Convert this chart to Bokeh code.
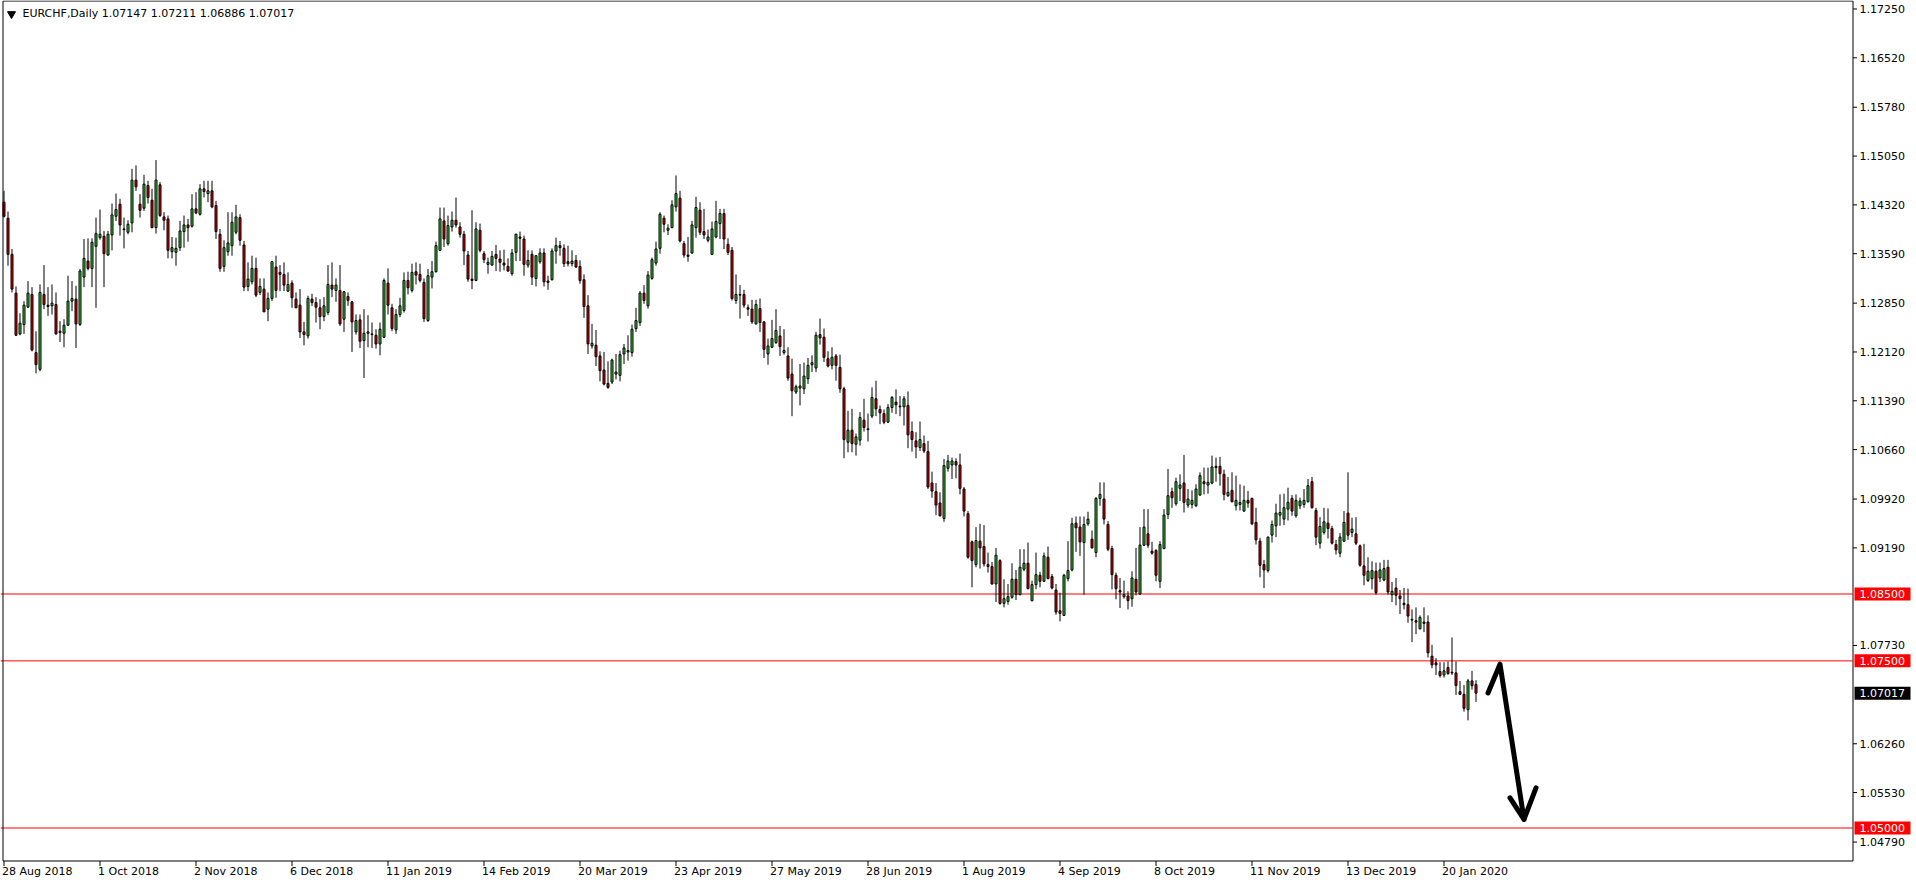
from bokeh.plotting import figure
from bokeh.models import Range1d, ColumnDataSource
from bokeh.core.properties import value
from bokeh.embed import file_html
from bokeh.resources import INLINE

# ---------------- data ----------------
symbol_title = "EURCHF,Daily  1.07147 1.07211 1.06886 1.07017"

opens = [
    1.1436, 1.1412, 1.1358, 1.1300, 1.1239, 1.1253, 1.1279, 1.1298, 1.1211, 1.1186,
    1.1298, 1.1282, 1.1281, 1.1283, 1.1243, 1.1240, 1.1252, 1.1288, 1.1291, 1.1253,
    1.1324, 1.1348, 1.1337, 1.1370, 1.1383, 1.1385, 1.1357, 1.1387, 1.1415, 1.1433,
    1.1396, 1.1391, 1.1405, 1.1469, 1.1433, 1.1427, 1.1461, 1.1439, 1.1398, 1.1462,
    1.1414, 1.1411, 1.1362, 1.1361, 1.1368, 1.1392, 1.1402, 1.1400, 1.1426, 1.1418,
    1.1456, 1.1449, 1.1453, 1.1431, 1.1388, 1.1340, 1.1362, 1.1371, 1.1391, 1.1413,
    1.1372, 1.1310, 1.1317, 1.1337, 1.1301, 1.1306, 1.1276, 1.1292, 1.1339, 1.1331,
    1.1328, 1.1303, 1.1315, 1.1291, 1.1282, 1.1242, 1.1236, 1.1291, 1.1286, 1.1278,
    1.1265, 1.1271, 1.1312, 1.1304, 1.1304, 1.1261, 1.1295, 1.1287, 1.1242, 1.1260,
    1.1229, 1.1240, 1.1239, 1.1237, 1.1224, 1.1234, 1.1315, 1.1278, 1.1245, 1.1268,
    1.1274, 1.1319, 1.1304, 1.1332, 1.1328, 1.1316, 1.1259, 1.1324, 1.1332, 1.1364,
    1.1408, 1.1374, 1.1399, 1.1409, 1.1399, 1.1388, 1.1357, 1.1321, 1.1319, 1.1394,
    1.1359, 1.1343, 1.1342, 1.1358, 1.1351, 1.1345, 1.1340, 1.1329, 1.1361, 1.1384,
    1.1381, 1.1342, 1.1358, 1.1322, 1.1347, 1.1360, 1.1318, 1.1320, 1.1363, 1.1371,
    1.1367, 1.1347, 1.1344, 1.1349, 1.1340, 1.1320, 1.1281, 1.1221, 1.1222, 1.1206,
    1.1185, 1.1165, 1.1167, 1.1179, 1.1177, 1.1209, 1.1212, 1.1211, 1.1247, 1.1256,
    1.1300, 1.1281, 1.1322, 1.1345, 1.1367, 1.1412, 1.1394, 1.1398, 1.1429, 1.1442,
    1.1374, 1.1357, 1.1360, 1.1398, 1.1424, 1.1392, 1.1379, 1.1358, 1.1384, 1.1404,
    1.1419, 1.1373, 1.1364, 1.1289, 1.1298, 1.1298, 1.1278, 1.1276, 1.1254, 1.1277,
    1.1257, 1.1209, 1.1219, 1.1226, 1.1236, 1.1211, 1.1206, 1.1179, 1.1152, 1.1158,
    1.1157, 1.1172, 1.1193, 1.1188, 1.1238, 1.1234, 1.1202, 1.1192, 1.1206, 1.1189,
    1.1157, 1.1077, 1.1095, 1.1074, 1.1080, 1.1110, 1.1097, 1.1116, 1.1142, 1.1126,
    1.1120, 1.1107, 1.1129, 1.1137, 1.1131, 1.1130, 1.1132, 1.1093, 1.1079, 1.1069,
    1.1075, 1.1063, 1.1016, 1.1003, 1.0986, 1.0963, 1.1038, 1.1043, 1.1048, 1.1043,
    1.1007, 1.0970, 1.0928, 1.0894, 1.0929, 1.0921, 1.0894, 1.0891, 1.0865, 1.0900,
    1.0836, 1.0839, 1.0845, 1.0872, 1.0849, 1.0887, 1.0896, 1.0840, 1.0864, 1.0878,
    1.0869, 1.0905, 1.0876, 1.0856, 1.0825, 1.0818, 1.0873, 1.0886, 1.0956, 1.0950,
    1.0927, 1.0955, 1.0932, 1.0912, 1.0993, 1.0992, 1.0954, 1.0918, 1.0878, 1.0855,
    1.0846, 1.0847, 1.0843, 1.0872, 1.0850, 1.0923, 1.0940, 1.0914, 1.0915, 1.0869,
    1.0918, 1.0969, 1.1003, 1.0985, 1.1008, 1.1016, 1.0983, 1.0984, 1.0982, 1.0998,
    1.1018, 1.1013, 1.1016, 1.1041, 1.1041, 1.1029, 1.0997, 1.1005, 1.0982, 1.0984,
    1.0974, 1.0990, 1.0993, 1.0957, 1.0929, 1.0894, 1.0885, 1.0938, 1.0952, 1.0968,
    1.0962, 1.0977, 1.0993, 1.0967, 1.0982, 1.0984, 1.0988, 1.1018, 1.0975, 1.0926,
    1.0942, 1.0956, 1.0948, 1.0924, 1.0911, 1.0929, 1.0971, 1.0942, 1.0940, 1.0922,
    1.0892, 1.0870, 1.0873, 1.0884, 1.0874, 1.0871, 1.0890, 1.0849, 1.0859, 1.0847,
    1.0836, 1.0834, 1.0812, 1.0810, 1.0798, 1.0808, 1.0808, 1.0757, 1.0747, 1.0734,
    1.0729, 1.0740, 1.0733, 1.0732, 1.0704, 1.0700, 1.0677, 1.0720, 1.07147,
]

highs = [
    1.1453, 1.1422, 1.1366, 1.1310, 1.1270, 1.1288, 1.1318, 1.1309, 1.1243, 1.1313,
    1.1342, 1.1309, 1.1313, 1.1301, 1.1258, 1.1261, 1.1326, 1.1318, 1.1311, 1.1336,
    1.1381, 1.1382, 1.1382, 1.1413, 1.1425, 1.1393, 1.1393, 1.1434, 1.1449, 1.1441,
    1.1413, 1.1409, 1.1486, 1.1491, 1.1448, 1.1477, 1.1468, 1.1456, 1.1499, 1.1466,
    1.1421, 1.1416, 1.1384, 1.1383, 1.1408, 1.1416, 1.1411, 1.1448, 1.1451, 1.1463,
    1.1468, 1.1468, 1.1468, 1.1438, 1.1396, 1.1379, 1.1421, 1.1421, 1.1432, 1.1418,
    1.1378, 1.1346, 1.1356, 1.1353, 1.1322, 1.1322, 1.1301, 1.1348, 1.1356, 1.1342,
    1.1346, 1.1331, 1.1319, 1.1301, 1.1306, 1.1257, 1.1296, 1.1299, 1.1294, 1.1291,
    1.1294, 1.1342, 1.1346, 1.1322, 1.1342, 1.1303, 1.1301, 1.1288, 1.1268, 1.1268,
    1.1276, 1.1267, 1.1256, 1.1246, 1.1256, 1.1322, 1.1337, 1.1284, 1.1276, 1.1293,
    1.1331, 1.1332, 1.1344, 1.1346, 1.1344, 1.1322, 1.1336, 1.1348, 1.1377, 1.1428,
    1.1428, 1.1416, 1.1422, 1.1443, 1.1406, 1.1393, 1.1363, 1.1424, 1.1406, 1.1404,
    1.1363, 1.1353, 1.1363, 1.1372, 1.1364, 1.1365, 1.1352, 1.1366, 1.1389, 1.1392,
    1.1386, 1.1364, 1.1364, 1.1357, 1.1367, 1.1367, 1.1326, 1.1367, 1.1383, 1.1378,
    1.1373, 1.1371, 1.1364, 1.1357, 1.1349, 1.1328, 1.1297, 1.1254, 1.1245, 1.1213,
    1.1212, 1.1198, 1.1202, 1.1209, 1.1214, 1.1224, 1.1237, 1.1253, 1.1278, 1.1303,
    1.1312, 1.1333, 1.1353, 1.1377, 1.1421, 1.1416, 1.1403, 1.1439, 1.1476, 1.1453,
    1.1378, 1.1384, 1.1408, 1.1444, 1.1436, 1.1426, 1.1395, 1.1407, 1.1438, 1.1426,
    1.1426, 1.1382, 1.1369, 1.1328, 1.1312, 1.1305, 1.1283, 1.1290, 1.1290, 1.1292,
    1.1258, 1.1232, 1.1260, 1.1276, 1.1251, 1.1246, 1.1219, 1.1202, 1.1163, 1.1194,
    1.1196, 1.1203, 1.1207, 1.1242, 1.1262, 1.1247, 1.1213, 1.1219, 1.1209, 1.1208,
    1.1160, 1.1124, 1.1127, 1.1090, 1.1122, 1.1142, 1.1120, 1.1159, 1.1169, 1.1132,
    1.1126, 1.1134, 1.1146, 1.1156, 1.1146, 1.1146, 1.1153, 1.1108, 1.1092, 1.1108,
    1.1087, 1.1079, 1.1033, 1.1016, 1.1002, 1.1052, 1.1058, 1.1054, 1.1053, 1.1060,
    1.1010, 1.0974, 1.0930, 1.0950, 1.0955, 1.0953, 1.0912, 1.0898, 1.0919, 1.0902,
    1.0872, 1.0865, 1.0896, 1.0886, 1.0917, 1.0917, 1.0927, 1.0870, 1.0912, 1.0883,
    1.0912, 1.0921, 1.0880, 1.0865, 1.0852, 1.0880, 1.0929, 1.0964, 1.0966, 1.0966,
    1.0966, 1.0973, 1.0945, 1.0995, 1.1017, 1.1017, 1.0959, 1.0922, 1.0882, 1.0874,
    1.0870, 1.0854, 1.0884, 1.0919, 1.0950, 1.0977, 1.0977, 1.0928, 1.0917, 1.0929,
    1.0977, 1.1037, 1.1009, 1.1024, 1.1029, 1.1058, 1.1007, 1.1005, 1.1014, 1.1032,
    1.1039, 1.1039, 1.1057, 1.1054, 1.1055, 1.1036, 1.1025, 1.1032, 1.1027, 1.1014,
    1.1012, 1.1004, 1.0994, 1.0979, 1.0934, 1.0901, 1.0936, 1.0960, 1.0985, 1.0999,
    1.1000, 1.1009, 1.0998, 1.0999, 1.0994, 1.1007, 1.1022, 1.1025, 1.0979, 1.0965,
    1.0979, 1.0978, 1.0952, 1.0931, 1.0941, 1.0974, 1.1032, 1.0964, 1.0965, 1.0924,
    1.0925, 1.0905, 1.0899, 1.0897, 1.0897, 1.0901, 1.0901, 1.0868, 1.0874, 1.0856,
    1.0859, 1.0858, 1.0827, 1.0830, 1.0818, 1.0830, 1.0818, 1.0774, 1.0754, 1.0748,
    1.0748, 1.0749, 1.0785, 1.0749, 1.0720, 1.0714, 1.0723, 1.0735, 1.07211,
]

lows = [
    1.1413, 1.1341, 1.1301, 1.1236, 1.1237, 1.1239, 1.1278, 1.1213, 1.1180, 1.1183,
    1.1276, 1.1266, 1.1268, 1.1238, 1.1227, 1.1219, 1.1251, 1.1273, 1.1218, 1.1251,
    1.1309, 1.1334, 1.1309, 1.1278, 1.1380, 1.1309, 1.1356, 1.1364, 1.1408, 1.1386,
    1.1367, 1.1388, 1.1391, 1.1453, 1.1413, 1.1423, 1.1434, 1.1397, 1.1389, 1.1414,
    1.1394, 1.1352, 1.1352, 1.1341, 1.1363, 1.1368, 1.1377, 1.1398, 1.1418, 1.1416,
    1.1443, 1.1436, 1.1427, 1.1381, 1.1332, 1.1332, 1.1356, 1.1356, 1.1388, 1.1371,
    1.1303, 1.1303, 1.1313, 1.1294, 1.1297, 1.1272, 1.1258, 1.1288, 1.1293, 1.1303,
    1.1303, 1.1302, 1.1278, 1.1278, 1.1233, 1.1222, 1.1232, 1.1281, 1.1256, 1.1246,
    1.1258, 1.1267, 1.1294, 1.1287, 1.1251, 1.1242, 1.1281, 1.1212, 1.1238, 1.1218,
    1.1173, 1.1219, 1.1218, 1.1217, 1.1207, 1.1233, 1.1268, 1.1243, 1.1239, 1.1264,
    1.1271, 1.1298, 1.1301, 1.1313, 1.1316, 1.1257, 1.1257, 1.1307, 1.1331, 1.1363,
    1.1369, 1.1371, 1.1392, 1.1398, 1.1383, 1.1342, 1.1317, 1.1306, 1.1318, 1.1361,
    1.1345, 1.1329, 1.1341, 1.1333, 1.1332, 1.1334, 1.1332, 1.1326, 1.1348, 1.1348,
    1.1326, 1.1338, 1.1312, 1.1310, 1.1344, 1.1310, 1.1305, 1.1319, 1.1344, 1.1356,
    1.1339, 1.1340, 1.1340, 1.1338, 1.1314, 1.1263, 1.1209, 1.1217, 1.1191, 1.1168,
    1.1162, 1.1157, 1.1164, 1.1171, 1.1168, 1.1194, 1.1199, 1.1205, 1.1242, 1.1251,
    1.1284, 1.1277, 1.1320, 1.1341, 1.1359, 1.1391, 1.1387, 1.1397, 1.1422, 1.1376,
    1.1353, 1.1347, 1.1359, 1.1383, 1.1387, 1.1381, 1.1376, 1.1357, 1.1382, 1.1381,
    1.1366, 1.1357, 1.1289, 1.1284, 1.1262, 1.1278, 1.1266, 1.1254, 1.1253, 1.1242,
    1.1203, 1.1193, 1.1218, 1.1224, 1.1206, 1.1208, 1.1169, 1.1116, 1.1149, 1.1132,
    1.1149, 1.1164, 1.1182, 1.1182, 1.1223, 1.1197, 1.1189, 1.1186, 1.1169, 1.1151,
    1.1053, 1.1062, 1.1062, 1.1057, 1.1072, 1.1093, 1.1078, 1.1113, 1.1116, 1.1104,
    1.1104, 1.1106, 1.1121, 1.1119, 1.1116, 1.1102, 1.1068, 1.1063, 1.1053, 1.1064,
    1.1061, 1.1007, 1.0994, 1.0968, 1.0966, 1.0958, 1.1033, 1.1022, 1.1023, 1.0999,
    1.0966, 1.0903, 1.0860, 1.0890, 1.0888, 1.0891, 1.0882, 1.0864, 1.0838, 1.0834,
    1.0830, 1.0834, 1.0843, 1.0841, 1.0848, 1.0884, 1.0857, 1.0839, 1.0857, 1.0860,
    1.0868, 1.0872, 1.0857, 1.0819, 1.0809, 1.0817, 1.0869, 1.0884, 1.0913, 1.0907,
    1.0849, 1.0952, 1.0918, 1.0905, 1.0982, 1.0954, 1.0914, 1.0857, 1.0842, 1.0829,
    1.0843, 1.0827, 1.0831, 1.0848, 1.0849, 1.0922, 1.0919, 1.0909, 1.0869, 1.0859,
    1.0917, 1.0962, 1.0979, 1.0982, 1.0989, 1.0972, 1.0979, 1.0978, 1.0980, 1.0997,
    1.0999, 1.1000, 1.1014, 1.1018, 1.1012, 1.0990, 1.0995, 1.0987, 1.0975, 1.0975,
    1.0973, 1.0979, 1.0953, 1.0924, 1.0875, 1.0859, 1.0882, 1.0927, 1.0935, 1.0952,
    1.0953, 1.0960, 1.0967, 1.0964, 1.0977, 1.0979, 1.0987, 1.0978, 1.0923, 1.0918,
    1.0939, 1.0933, 1.0924, 1.0909, 1.0905, 1.0928, 1.0931, 1.0935, 1.0923, 1.0891,
    1.0863, 1.0868, 1.0857, 1.0849, 1.0868, 1.0869, 1.0849, 1.0838, 1.0833, 1.0820,
    1.0827, 1.0807, 1.0778, 1.0790, 1.0797, 1.0793, 1.0755, 1.0739, 1.0729, 1.0725,
    1.0725, 1.0729, 1.0729, 1.0699, 1.0699, 1.0674, 1.0661, 1.0707, 1.06886,
]

closes = [
    1.1415, 1.1358, 1.1306, 1.1237, 1.1255, 1.1282, 1.1300, 1.1215, 1.1193, 1.1301,
    1.1283, 1.1280, 1.1285, 1.1239, 1.1241, 1.1252, 1.1288, 1.1292, 1.1254, 1.1333,
    1.1352, 1.1337, 1.1376, 1.1389, 1.1388, 1.1359, 1.1388, 1.1417, 1.1425, 1.1402,
    1.1395, 1.1403, 1.1469, 1.1459, 1.1424, 1.1463, 1.1443, 1.1398, 1.1469, 1.1416,
    1.1409, 1.1364, 1.1368, 1.1367, 1.1393, 1.1402, 1.1398, 1.1426, 1.1420, 1.1456,
    1.1452, 1.1453, 1.1429, 1.1392, 1.1337, 1.1368, 1.1375, 1.1406, 1.1414, 1.1379,
    1.1309, 1.1321, 1.1337, 1.1297, 1.1310, 1.1272, 1.1292, 1.1347, 1.1304, 1.1328,
    1.1312, 1.1313, 1.1293, 1.1278, 1.1242, 1.1238, 1.1292, 1.1286, 1.1279, 1.1265,
    1.1281, 1.1313, 1.1306, 1.1312, 1.1254, 1.1302, 1.1289, 1.1257, 1.1259, 1.1228,
    1.1240, 1.1242, 1.1238, 1.1224, 1.1246, 1.1319, 1.1282, 1.1247, 1.1268, 1.1281,
    1.1319, 1.1308, 1.1331, 1.1327, 1.1319, 1.1262, 1.1326, 1.1332, 1.1371, 1.1411,
    1.1381, 1.1401, 1.1409, 1.1402, 1.1388, 1.1363, 1.1321, 1.1319, 1.1396, 1.1364,
    1.1350, 1.1346, 1.1355, 1.1352, 1.1346, 1.1342, 1.1333, 1.1360, 1.1388, 1.1382,
    1.1343, 1.1349, 1.1324, 1.1356, 1.1360, 1.1317, 1.1316, 1.1363, 1.1371, 1.1368,
    1.1344, 1.1344, 1.1348, 1.1339, 1.1319, 1.1280, 1.1224, 1.1225, 1.1205, 1.1184,
    1.1164, 1.1159, 1.1200, 1.1182, 1.1208, 1.1218, 1.1214, 1.1246, 1.1259, 1.1300,
    1.1289, 1.1327, 1.1350, 1.1366, 1.1418, 1.1403, 1.1397, 1.1432, 1.1449, 1.1378,
    1.1357, 1.1355, 1.1402, 1.1428, 1.1391, 1.1387, 1.1384, 1.1396, 1.1407, 1.1419,
    1.1381, 1.1361, 1.1292, 1.1298, 1.1297, 1.1282, 1.1276, 1.1257, 1.1283, 1.1256,
    1.1216, 1.1221, 1.1232, 1.1244, 1.1220, 1.1214, 1.1173, 1.1154, 1.1160, 1.1161,
    1.1176, 1.1192, 1.1196, 1.1237, 1.1233, 1.1204, 1.1191, 1.1204, 1.1192, 1.1157,
    1.1081, 1.1095, 1.1075, 1.1085, 1.1114, 1.1099, 1.1096, 1.1144, 1.1127, 1.1121,
    1.1107, 1.1129, 1.1144, 1.1133, 1.1130, 1.1142, 1.1088, 1.1081, 1.1070, 1.1081,
    1.1064, 1.1010, 1.1004, 1.0983, 1.0967, 1.1042, 1.1049, 1.1049, 1.1043, 1.1008,
    1.0974, 1.0905, 1.0900, 1.0930, 1.0919, 1.0895, 1.0891, 1.0865, 1.0908, 1.0836,
    1.0843, 1.0846, 1.0872, 1.0849, 1.0890, 1.0896, 1.0858, 1.0864, 1.0879, 1.0869,
    1.0907, 1.0873, 1.0859, 1.0823, 1.0821, 1.0878, 1.0885, 1.0955, 1.0949, 1.0928,
    1.0954, 1.0962, 1.0919, 1.0993, 1.0999, 1.0962, 1.0917, 1.0879, 1.0858, 1.0853,
    1.0849, 1.0840, 1.0874, 1.0853, 1.0923, 1.0950, 1.0923, 1.0911, 1.0878, 1.0924,
    1.0968, 1.0997, 1.0994, 1.1018, 1.1013, 1.0987, 1.0992, 1.0990, 1.1007, 1.1027,
    1.1015, 1.1017, 1.1040, 1.1039, 1.1030, 1.0999, 1.1002, 1.0988, 1.0990, 1.0987,
    1.0990, 1.0986, 1.0955, 1.0931, 1.0893, 1.0886, 1.0935, 1.0954, 1.0971, 1.0972,
    1.0979, 1.0987, 1.0974, 1.0990, 1.0989, 1.0990, 1.1012, 1.0979, 1.0935, 1.0951,
    1.0958, 1.0948, 1.0926, 1.0916, 1.0935, 1.0957, 1.0938, 1.0947, 1.0926, 1.0893,
    1.0878, 1.0884, 1.0885, 1.0852, 1.0886, 1.0888, 1.0853, 1.0854, 1.0848, 1.0843,
    1.0834, 1.0817, 1.0811, 1.0808, 1.0815, 1.0806, 1.0762, 1.0744, 1.0744, 1.0728,
    1.0735, 1.0731, 1.0732, 1.0713, 1.0700, 1.0679, 1.0720, 1.0713, 1.07017,
]

date_tick_bars = [0, 24, 48, 72, 96, 120, 144, 168, 192, 216, 240, 264, 288, 312, 336, 360]
date_tick_labels = ["28 Aug 2018", "1 Oct 2018", "2 Nov 2018", "6 Dec 2018", "11 Jan 2019",
                    "14 Feb 2019", "20 Mar 2019", "23 Apr 2019", "27 May 2019", "28 Jun 2019",
                    "1 Aug 2019", "4 Sep 2019", "8 Oct 2019", "11 Nov 2019", "13 Dec 2019",
                    "20 Jan 2020"]
price_ticks = [1.17250, 1.16520, 1.15780, 1.15050, 1.14320, 1.13590, 1.12850, 1.12120,
               1.11390, 1.10660, 1.09920, 1.09190, 1.07730, 1.06260, 1.05530, 1.04790]
level_prices = [1.08500, 1.07500, 1.05000]
last_price = 1.07017

# hand-drawn arrow (bar index, price)
arrow_bars = [371.0, 374.0, 380.0]
arrow_prices = [1.0702, 1.0745, 1.0513]
arrow_head_bars = [376.5, 380.0, 383.0]
arrow_head_prices = [1.0545, 1.0513, 1.0560]

# ---------------- layout ----------------
W, H = 1914, 882            # canvas; the chart window spans the whole canvas
CW, CH = 1852, 860          # price-chart area (right of it: price scale, below: dates)
px_x = 0.25                 # bars per pixel (4 px per daily bar)
px_y = 1.0 / 6686.0         # price per pixel
X0 = -0.875                 # bar shown at the left edge of the chart area
X1 = X0 + CW * px_x
Y1 = 1.08500 + 593.5 * px_y  # price shown at the top edge of the chart area
Y0 = Y1 - CH * px_y

FONT = "DejaVu Sans"
FS = "11px"
BULL = "#32cd32"
BEAR = "#e60000"

n = len(closes)
src = ColumnDataSource(dict(
    x=list(range(n)),
    h=highs, l=lows,
    top=[max(a, b) for a, b in zip(opens, closes)],
    bottom=[min(a, b) for a, b in zip(opens, closes)],
    color=[BULL if c >= o else BEAR for o, c in zip(opens, closes)],
))

p = figure(width=W, height=H, output_backend="svg", toolbar_location=None,
           x_range=Range1d(X0, X0 + W * px_x), y_range=Range1d(Y1 - H * px_y, Y1),
           x_axis_location=None, y_axis_location=None,
           min_border=0, min_border_left=0, min_border_right=0,
           min_border_top=0, min_border_bottom=0)
p.background_fill_color = "white"
p.border_fill_color = "white"
p.outline_line_color = None
p.xgrid.visible = False
p.ygrid.visible = False

# horizontal levels
p.segment(x0=[X0] * 3, y0=level_prices, x1=[X1] * 3, y1=level_prices,
          line_color="#ff0000", line_width=1)

# candles
p.segment(x0="x", y0="l", x1="x", y1="h", source=src, line_color="black", line_width=1)
p.vbar(x="x", width=0.5, top="top", bottom="bottom", source=src,
       fill_color="color", line_color="black", line_width=1)

# arrow drawn on the chart
p.line(arrow_bars, arrow_prices, line_color="black", line_width=5,
       line_join="round", line_cap="round")
p.line(arrow_head_bars, arrow_head_prices, line_color="black", line_width=5,
       line_join="round", line_cap="round")

# chart window border (left, right, bottom, top)
xl, xr = X0 + 2.5 * px_x, X1 + 0.5 * px_x
yb, yt = Y0 - 0.5 * px_y, Y1 - 0.5 * px_y
p.segment(x0=[xl, xr, xl, xl], y0=[yb, yb, yb, yt], x1=[xl, xr, xr, xr], y1=[yt, yt, yb, yt],
          line_color="black", line_width=1)

# price scale: tick marks and labels
p.segment(x0=[xr] * len(price_ticks), y0=price_ticks,
          x1=[xr + 4 * px_x] * len(price_ticks), y1=price_ticks,
          line_color="black", line_width=1)
label_y = [min(v, Y1 - 7.5 * px_y) for v in price_ticks]
p.text(x=[X1 + 7 * px_x] * len(price_ticks), y=label_y,
       text=["%.5f" % v for v in price_ticks],
       text_font=value(FONT), text_font_size=value(FS), text_color="black",
       text_align="left", text_baseline="middle")

# time scale: tick marks and labels (left aligned at the bar, as in MT4)
p.segment(x0=date_tick_bars, y0=[yb] * len(date_tick_bars),
          x1=date_tick_bars, y1=[yb - 5 * px_y] * len(date_tick_bars),
          line_color="black", line_width=1)
p.text(x=[b - 0.5 for b in date_tick_bars], y=[Y0 - 11 * px_y] * len(date_tick_bars),
       text=date_tick_labels,
       text_font=value(FONT), text_font_size=value(FS), text_color="black",
       text_align="left", text_baseline="middle")

# price tags on the scale
tag_prices = level_prices + [last_price]
tag_colors = ["#ff0000"] * len(level_prices) + ["black"]
p.rect(x=[X1 + 30 * px_x] * len(tag_prices), y=tag_prices, width=56, height=13,
       width_units="screen", height_units="screen",
       fill_color=tag_colors, line_color=None)
p.text(x=[X1 + 7 * px_x] * len(tag_prices), y=tag_prices,
       text=["%.5f" % v for v in tag_prices],
       text_font=value(FONT), text_font_size=value(FS), text_color="white",
       text_align="left", text_baseline="middle")

# title with the drop-down triangle
p.scatter([X0 + 11 * px_x], [Y1 - 13.5 * px_y], marker="inverted_triangle", size=8,
          fill_color="black", line_color="black")
p.text(x=[X0 + 22 * px_x], y=[Y1 - 13 * px_y], text=[symbol_title],
       text_font=value(FONT), text_font_size=value(FS), text_color="black",
       text_align="left", text_baseline="middle")

open("out.html", "w").write(file_html(p, INLINE))
